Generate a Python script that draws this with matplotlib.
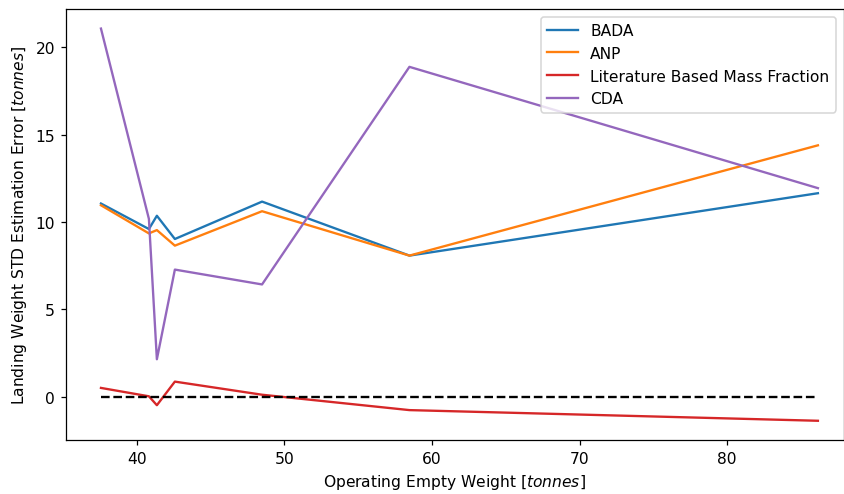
import matplotlib
matplotlib.use('Agg')
import matplotlib.pyplot as plt
import numpy as np

# Operating empty weight of each aircraft type (tonnes)
oew = [37.56, 40.81, 41.35, 42.57, 48.48, 58.47, 86.16]

# STD of landing weight estimation error per method (tonnes)
bada = [11.06, 9.60, 10.36, 9.03, 11.17, 8.08, 11.65]
anp = [10.96, 9.35, 9.54, 8.65, 10.62, 8.08, 14.39]
literature = [0.51, 0.03, -0.48, 0.87, 0.12, -0.76, -1.37]
cda = [21.07, 10.18, 2.15, 7.28, 6.43, 18.88, 11.94]

dpi = 112
fig, ax = plt.subplots(figsize=(844 / dpi, 495 / dpi), dpi=dpi)
fig.subplots_adjust(left=0.0782, right=0.9995, top=0.9798, bottom=0.1091)

ax.plot(oew, bada, color='tab:blue', label='BADA')
ax.plot(oew, anp, color='tab:orange', label='ANP')
ax.plot(oew, literature, color='tab:red', label='Literature Based Mass Fraction')
ax.plot(oew, cda, color='tab:purple', label='CDA')
# zero reference line
ax.plot([min(oew), max(oew)], [0, 0], 'k--')

ax.set_xlim(35.19, 87.9)
ax.set_ylim(-2.47, 22.19)
ax.set_xticks([40, 50, 60, 70, 80])
ax.set_yticks([0, 5, 10, 15, 20])

ax.set_xlabel('Operating Empty Weight [$tonnes$]')
ax.set_ylabel('Landing Weight STD Estimation Error [$tonnes$]')
ax.legend(loc='upper right')

plt.savefig('out.png', dpi=dpi)
